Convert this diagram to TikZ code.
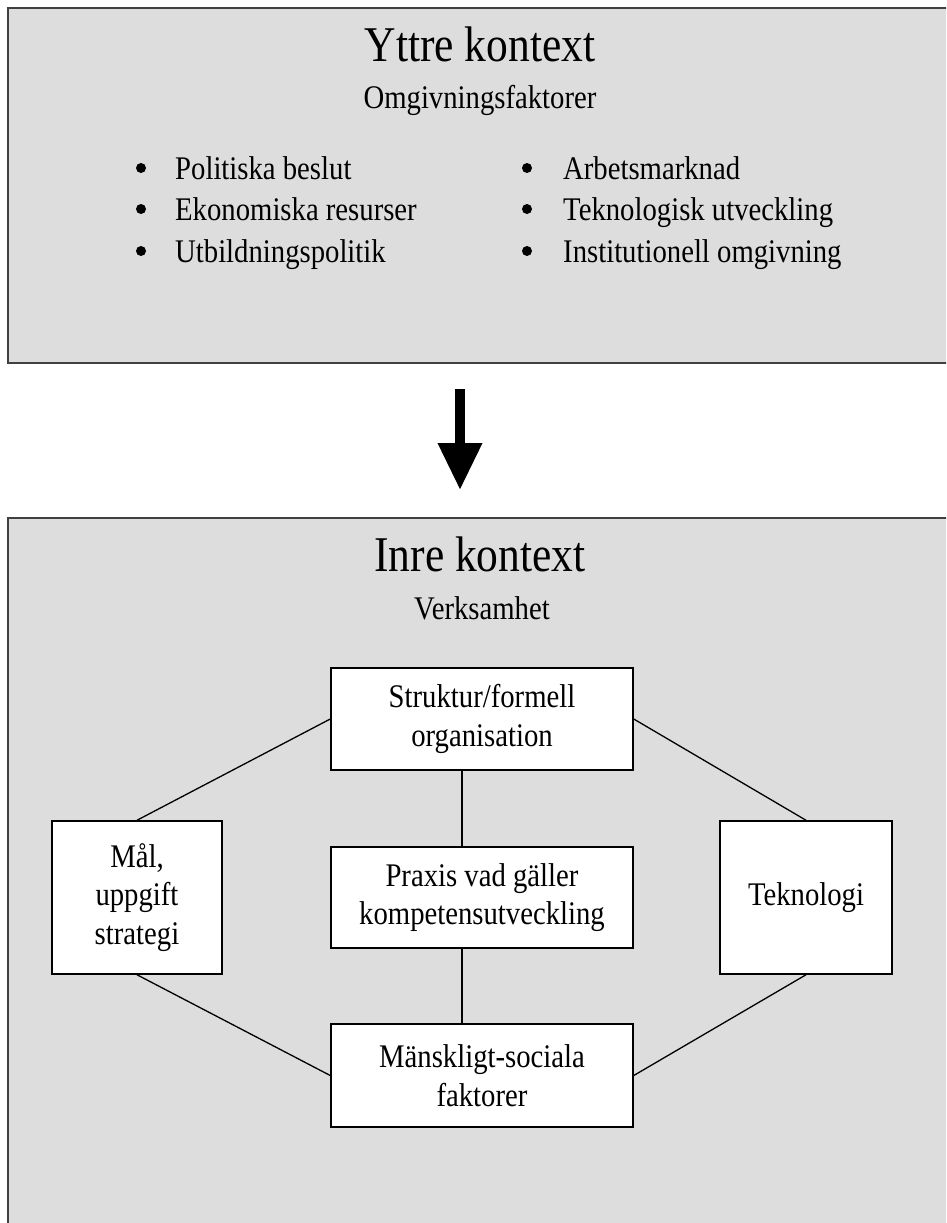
\documentclass[tikz,border=0pt]{standalone}
\usepackage{fontspec}
\setmainfont{Liberation Serif}[FakeStretch=0.87]
\usetikzlibrary{arrows.meta}
\definecolor{panelgray}{HTML}{DDDDDD}
\definecolor{edgegray}{HTML}{404040}
\tikzset{
  panel/.style={fill=panelgray, draw=edgegray, line width=2pt},
  title/.style={anchor=base, font=\fontsize{50}{56}\selectfont},
  subtitle/.style={anchor=base, font=\fontsize{33}{38}\selectfont},
  item/.style={anchor=base west, font=\fontsize{33}{38}\selectfont, inner sep=0pt},
  dot/.style={circle, fill=black, minimum size=10pt, inner sep=0pt},
  factor/.style={draw=black, fill=white, line width=1.5pt, align=center, inner sep=0pt,
    font=\fontsize{33}{38.5}\selectfont},
  link/.style={draw=black, line width=1.3pt}
}
\begin{document}
\begin{tikzpicture}[x=1pt, y=-1pt]
\useasboundingbox (0,0) rectangle (946,1223);
\clip (0,0) rectangle (946,1223);
\fill[white] (0,0) rectangle (946,1223);
% panels
\draw[panel] (8,8) rectangle (960,363);
\draw[panel] (8,518) rectangle (960,1240);
% outer context
\node[title] (yttre) at (480,62) {Yttre kontext};
\node[subtitle] (omg) at (480,108) {Omgivningsfaktorer};
\node[dot] (b1) at (141,168) {};
\node[dot] (b2) at (141,209) {};
\node[dot] (b3) at (141,251) {};
\node[dot] (b4) at (527,168) {};
\node[dot] (b5) at (527,209) {};
\node[dot] (b6) at (527,251) {};
\node[item] (t1) at (175,179) {Politiska beslut};
\node[item] (t2) at (175,220) {Ekonomiska resurser};
\node[item] (t3) at (175,262) {Utbildningspolitik};
\node[item] (t4) at (563,179) {Arbetsmarknad};
\node[item] (t5) at (563,220) {Teknologisk utveckling};
\node[item] (t6) at (563,262) {Institutionell omgivning};
% arrow
\coordinate (arrstart) at (460,389);
\coordinate (arrtip) at (460,490);
\draw[line width=10pt, -{Triangle[width=42pt,length=47pt]}] (arrstart) -- (arrtip);
% inner context
\node[title] (inre) at (480,571) {Inre kontext};
\node[subtitle] (verk) at (482,619) {Verksamhet};
\node[factor, minimum width=302pt, minimum height=102pt] (struktur) at (482,719) {Struktur/formell\\organisation};
\node[factor, minimum width=302pt, minimum height=101pt] (praxis) at (482,897.5) {Praxis vad gäller\\kompetensutveckling};
\node[factor, minimum width=302pt, minimum height=103pt] (mansk) at (482,1075.5) {Mänskligt-sociala\\faktorer};
\node[factor, minimum width=170pt, minimum height=153pt] (mal) at (137,897.5) {Mål,\\uppgift\\strategi};
\node[factor, minimum width=172pt, minimum height=153pt] (tekn) at (806,897.5) {Teknologi};
% connectors
\draw[link] (struktur.west) -- (mal.north);
\draw[link] (struktur.east) -- (tekn.north);
\draw[link] (mal.south) -- (mansk.west);
\draw[link] (tekn.south) -- (mansk.east);
\draw[link] ([xshift=-20pt]struktur.south) -- ([xshift=-20pt]praxis.north);
\draw[link] ([xshift=-20pt]praxis.south) -- ([xshift=-20pt]mansk.north);
\end{tikzpicture}
\end{document}
